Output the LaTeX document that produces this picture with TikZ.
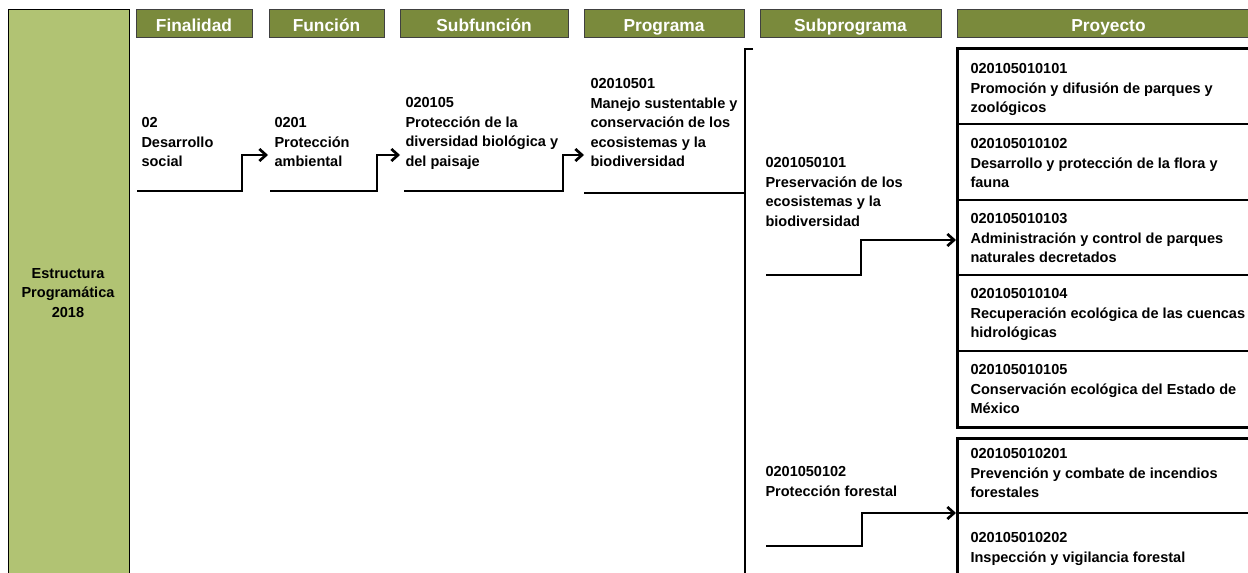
\documentclass[tikz,border=0pt]{standalone}
\usepackage{fontspec}
\setmainfont{Liberation Sans}
\usetikzlibrary{arrows.meta}
\definecolor{hdrgreen}{RGB}{122,138,60}
\definecolor{colgreen}{RGB}{177,195,115}
\tikzset{every picture/.style={line width=0.75pt}}
\tikzset{
  hdr/.style={draw=black!75, fill=hdrgreen, text=white, inner sep=0pt,
    minimum height=21pt, text height=12.2pt, text depth=1.6pt,
    font=\fontsize{13}{15}\selectfont\bfseries},
  lbl/.style={anchor=north west, inner sep=0.75pt, align=left,
    font=\fontsize{10.9}{14.6}\selectfont\bfseries},
  conn/.style={line width=2pt, -{Straight Barb[length=5pt,width=9pt]}},
  bar/.style={line width=2pt},
  sep/.style={line width=1.5pt}
}

\begin{document}
\begin{tikzpicture}[x=0.75pt,y=0.75pt,yscale=-1,xscale=1]
\clip (0,0) rectangle (1248,573);

%Shape: Rectangle (left column)
\filldraw[fill=colgreen, draw=black] (8,10) rectangle (129,600);
\node (estr) [align=center, inner sep=0.75pt, font=\fontsize{10.9}{14.6}\selectfont\bfseries] at (68,293) {Estructura\\Programática\\2018};

% Header boxes
\node (hfin) [hdr, minimum width=87pt] at (194,24) {Finalidad};
\node (hfun) [hdr, minimum width=86.25pt] at (326.5,24) {Función};
\node (hsub) [hdr, minimum width=126pt] at (484,24) {Subfunción};
\node (hprg) [hdr, minimum width=120pt] at (664,24) {Programa};
\node (hspr) [hdr, minimum width=135.75pt] at (850.5,24) {Subprograma};
\node (hpry) [hdr, minimum width=227.25pt] at (1108.5,24) {Proyecto};

% Text Node
\node (fin) [lbl] at (140,116) {02\\Desarrollo\\social};
% Text Node
\node (fun) [lbl] at (273,116) {0201\\Protección\\ambiental};
% Text Node
\node (sub) [lbl] at (404,96) {020105\\Protección de la\\diversidad biológica y\\del paisaje};
% Text Node
\node (prg) [lbl] at (589,77) {02010501\\Manejo sustentable y\\conservación de los\\ecosistemas y la\\biodiversidad};
% Text Node
\node (spr1) [lbl] at (764,156) {0201050101\\Preservación de los\\ecosistemas y la\\biodiversidad};
% Text Node
\node (spr2) [lbl] at (764,465) {0201050102\\Protección forestal};

%Shape: Rectangles (proyectos)
\draw[line width=2.25pt] (957,49) rectangle (1262,427);
\draw[sep] (957,124) -- (1262,124);
\draw[sep] (957,200) -- (1262,200);
\draw[sep] (957,275) -- (1262,275);
\draw[sep] (957,351) -- (1262,351);
\draw[line width=2.25pt] (957,438) rectangle (1262,600);
\draw[sep] (957,513) -- (1262,513);

% Text Node
\node (p1) [lbl] at (969,62) {020105010101\\Promoción y difusión de parques y\\zoológicos};
\node (p2) [lbl] at (969,137) {020105010102\\Desarrollo y protección de la flora y\\fauna};
\node (p3) [lbl] at (969,212) {020105010103\\Administración y control de parques\\naturales decretados};
\node (p4) [lbl] at (969,287) {020105010104\\Recuperación ecológica de las cuencas\\hidrológicas};
\node (p5) [lbl] at (969,363) {020105010105\\Conservación ecológica del Estado de\\México};
\node (p6) [lbl] at (969,447) {020105010201\\Prevención y combate de incendios\\forestales};
\node (p7) [lbl] at (969,531) {020105010202\\Inspección y vigilancia forestal};

% Coordinates for connectors
\coordinate (a1) at (137,191);
\coordinate (t1) at (268,155);
\coordinate (a2) at (270,191);
\coordinate (t2) at (400,155);
\coordinate (a3) at (404,191);
\coordinate (t3) at (584,155);
\coordinate (a4) at (584,193);
\coordinate (trunk) at (745,49);
\coordinate (a5) at (766,275);
\coordinate (t5) at (956,240);
\coordinate (a6) at (766,546);
\coordinate (t6) at (956,513);

%Straight Lines
\draw[conn] (a1) -- ++(105,0) |- (t1);
\draw[conn] (a2) -- ++(107,0) |- (t2);
\draw[conn] (a3) -- ++(159,0) |- (t3);
\draw[bar] (a4) -- (a4 -| trunk);
\draw[bar] ([xshift=6pt]trunk) -- (trunk) -- ++(0,560);
\draw[conn] (a5) -- ++(95,0) |- (t5);
\draw[conn] (a6) -- ++(96,0) |- (t6);

\end{tikzpicture}
\end{document}
